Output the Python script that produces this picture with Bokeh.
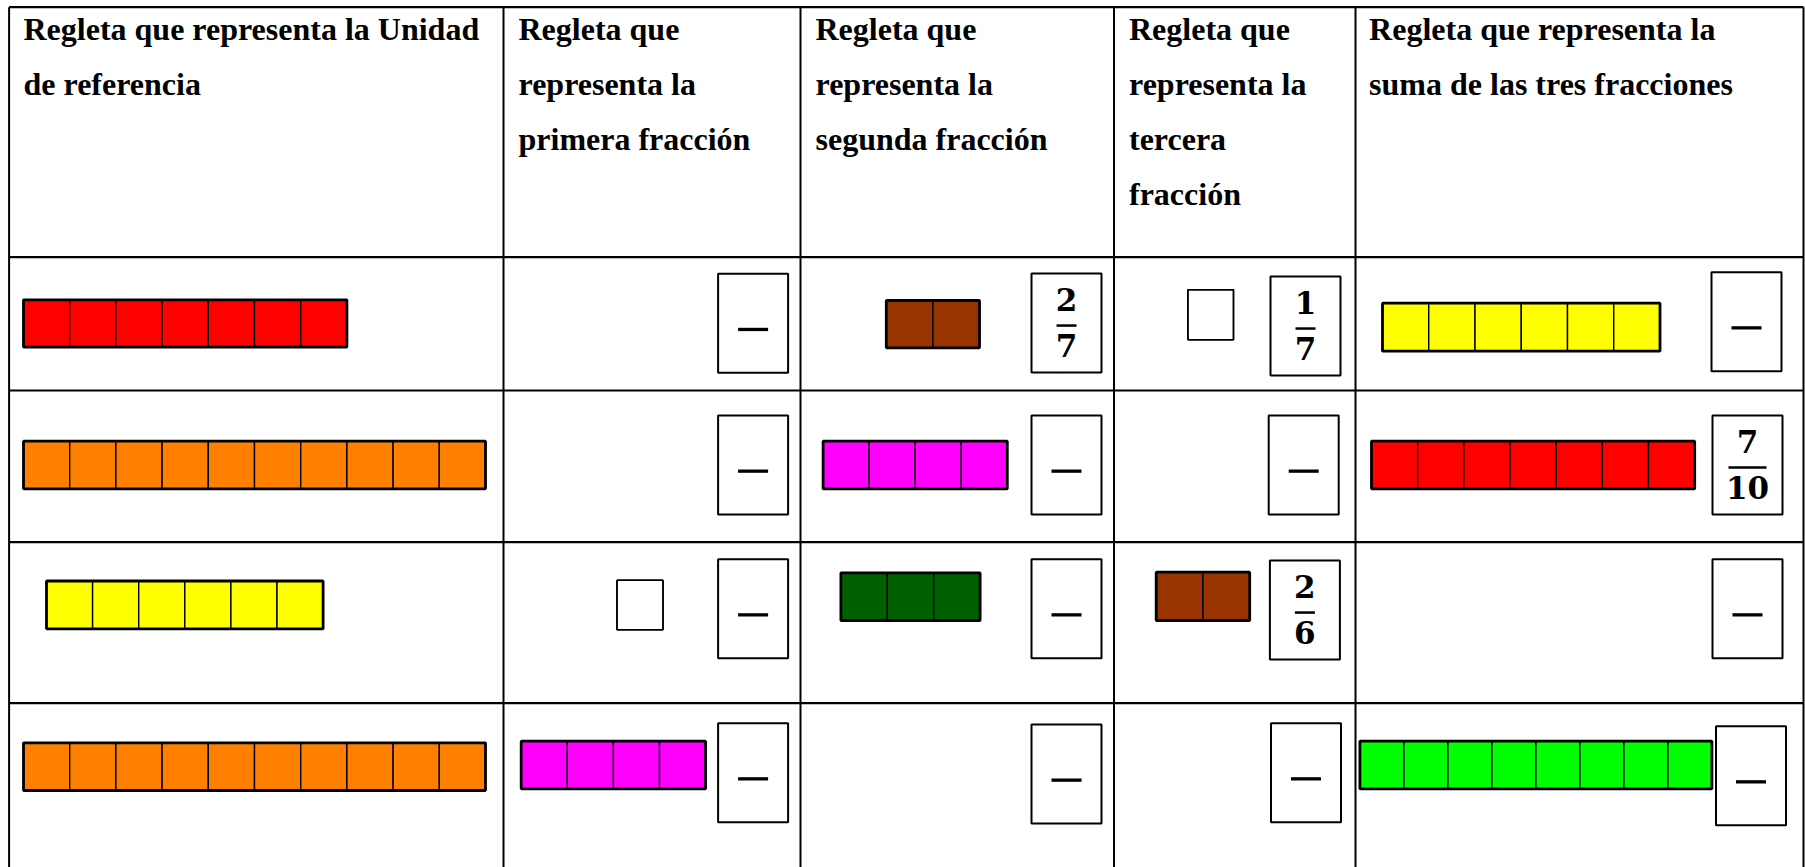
from bokeh.plotting import figure
from bokeh.models import Range1d
from bokeh.core.properties import value
from bokeh.embed import file_html
from bokeh.resources import INLINE

# ---------------- DATA ----------------
headers = [
    ["Regleta que representa la Unidad", "de referencia"],
    ["Regleta que", "representa la", "primera fracción"],
    ["Regleta que", "representa la", "segunda fracción"],
    ["Regleta que", "representa la", "tercera", "fracción"],
    ["Regleta que representa la", "suma de las tres fracciones"],
]

# rod lengths (number of unit cubes) per table row, 0 = no rod
unit_lengths = [7, 10, 6, 10]
first_lengths = [0, 0, 1, 4]
second_lengths = [2, 4, 3, 0]
third_lengths = [1, 0, 2, 0]
sum_lengths = [6, 7, 0, 8]

unit_colors = ["#FF0000", "#FF8000", "#FFFF00", "#FF8000"]
first_colors = [None, None, "#FFFFFF", "#FF00FF"]
second_colors = ["#993300", "#FF00FF", "#006000", None]
third_colors = ["#FFFFFF", None, "#993300", None]
sum_colors = ["#FFFF00", "#FF0000", None, "#00FF00"]

# fractions written in the boxes ("" = empty box with a dash)
first_fracs = ["", "", "", ""]
second_fracs = ["2/7", "", "", ""]
third_fracs = ["1/7", "", "2/6", ""]
sum_fracs = ["", "7/10", "", ""]

# ---------------- LAYOUT ----------------
col_lines = [8.6, 503, 800, 1113.5, 1355, 1803]
row_lines = [6.7, 256.7, 390, 541.7, 702.7]
text_x = [23, 518, 815, 1128.5, 1368.6]
first_baseline = 28
line_step = 55

# rod placement: (left, top, unit width, height) per column, per row
rod_layout = [
    [(23, 299.3, 46.2, 47.3), (23, 440.7, 46.2, 47.6), (46, 580.5, 46.1, 47.8), (23, 742.3, 46.2, 47.7)],
    [None, None, (616.5, 579.7, 46, 49.6), (520.7, 740.7, 46.1, 47.6)],
    [(885.8, 300, 46.6, 47.3), (822.6, 440.7, 46.05, 47.6), (840.4, 572.3, 46.4, 47.7), None],
    [(1187.4, 289.3, 45.6, 50), None, (1155.7, 571.7, 46.75, 48.3), None],
    [(1382, 302.7, 46.25, 48), (1371, 440.7, 46.17, 47.6), None, (1359.4, 740.7, 44.0, 47.6)],
]
box_layout = [
    [(717.6, 273.3), (717.6, 415), (717.6, 558.7), (717.6, 722.7)],
    [(1031, 273), (1031, 415), (1031, 558.7), (1031, 724)],
    [(1270, 276), (1268.2, 415), (1269.4, 560), (1270.5, 722.7)],
    [(1711, 271.7), (1712, 415), (1712, 558.7), (1715.5, 725.7)],
]
BOX_W, BOX_H = 70, 99

p = figure(width=1805, height=867, output_backend="svg", toolbar_location=None,
           x_range=Range1d(0, 1805), y_range=Range1d(867, 0),
           x_axis_location=None, y_axis_location=None, min_border=0,
           outline_line_color=None, background_fill_color="white",
           border_fill_color="white")
p.grid.visible = False

# table lines
p.segment(x0=[col_lines[0]] * len(row_lines), x1=[col_lines[-1]] * len(row_lines),
          y0=row_lines, y1=row_lines, line_color="black", line_width=2.2)
p.segment(x0=col_lines, x1=col_lines, y0=[row_lines[0]] * len(col_lines),
          y1=[900] * len(col_lines), line_color="black", line_width=2)

# header texts
hx, hy, ht = [], [], []
for c, lines in enumerate(headers):
    for i, t in enumerate(lines):
        hx.append(text_x[c]); hy.append(first_baseline + i * line_step); ht.append(t)
p.text(x=hx, y=hy, text=ht, text_font=value("Liberation Serif"), text_font_style="bold",
       text_font_size="32px", text_baseline="alphabetic", text_align="left", text_color="black")

# rods
all_lengths = [unit_lengths, first_lengths, second_lengths, third_lengths, sum_lengths]
all_colors = [unit_colors, first_colors, second_colors, third_colors, sum_colors]
cl, cr, ct, cb, cc = [], [], [], [], []
ol, orr, ot, ob, ow = [], [], [], [], []
for c in range(5):
    for r in range(4):
        n = all_lengths[c][r]
        if n == 0:
            continue
        left, top, unit, h = rod_layout[c][r]
        for i in range(n):
            cl.append(left + i * unit); cr.append(left + (i + 1) * unit)
            ct.append(top); cb.append(top + h); cc.append(all_colors[c][r])
        ol.append(left); orr.append(left + n * unit); ot.append(top); ob.append(top + h)
        ow.append(1.6 if all_colors[c][r] == "#FFFFFF" else 2.8)
p.quad(left=cl, right=cr, top=ct, bottom=cb, fill_color=cc, line_color="black", line_width=1.4)
p.quad(left=ol, right=orr, top=ot, bottom=ob, fill_color=None, line_color="black",
       line_width=ow)

# fraction boxes
all_fracs = [first_fracs, second_fracs, third_fracs, sum_fracs]
bl, br, bt, bb = [], [], [], []
dl, dr, dt, db = [], [], [], []
nx, ny, nt = [], [], []
for c in range(4):
    for r in range(4):
        x0, y0 = box_layout[c][r]
        bl.append(x0); br.append(x0 + BOX_W); bt.append(y0); bb.append(y0 + BOX_H)
        cx = x0 + BOX_W / 2
        f = all_fracs[c][r]
        if f == "":
            dl.append(cx - 15); dr.append(cx + 15); dt.append(y0 + 54); db.append(y0 + 57.3)
        else:
            num, den = f.split("/")
            w = 10 if len(den) == 1 else 19
            dl.append(cx - w); dr.append(cx + w); dt.append(y0 + 50.8); db.append(y0 + 53.3)
            nx += [cx, cx]; ny += [y0 + 26, y0 + 72]; nt += [num, den]
p.quad(left=bl, right=br, top=bt, bottom=bb, fill_color="white", line_color="black",
       line_width=2)
p.quad(left=dl, right=dr, top=dt, bottom=db, fill_color="black", line_color=None)
p.text(x=nx, y=ny, text=nt, text_font=value("DejaVu Serif"), text_font_style="bold",
       text_font_size="31px", text_baseline="alphabetic", text_align="center", text_color="black")

open("out.html", "w").write(file_html(p, INLINE))
